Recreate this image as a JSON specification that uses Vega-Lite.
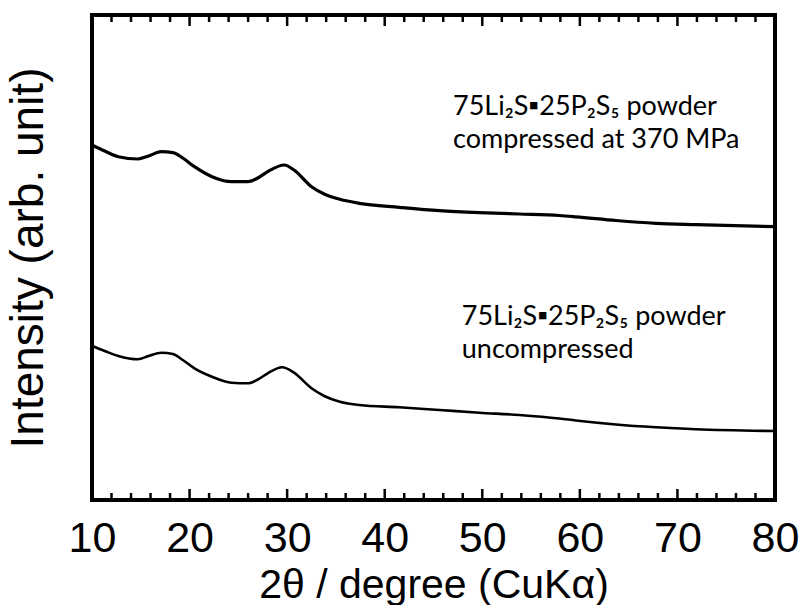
{
  "$schema": "https://vega.github.io/schema/vega-lite/v6.json",
  "width": 683,
  "height": 485,
  "autosize": "none",
  "padding": {"left": 92, "top": 15, "right": 27, "bottom": 105},
  "background": "white",
  "config": {
    "view": {"stroke": "black", "strokeWidth": 4},
    "axis": {"domain": false, "grid": false}
  },
  "datasets": {
    "xrd": [
      {"s": "a", "x": 10, "y": 355},
      {"s": "a", "x": 11.3, "y": 349},
      {"s": "a", "x": 12.7, "y": 343.3},
      {"s": "a", "x": 14.7, "y": 341},
      {"s": "a", "x": 15.8, "y": 344},
      {"s": "a", "x": 17.1, "y": 348.3},
      {"s": "a", "x": 18.3, "y": 347.3},
      {"s": "a", "x": 19.3, "y": 342},
      {"s": "a", "x": 20.5, "y": 333.3},
      {"s": "a", "x": 22.3, "y": 323.3},
      {"s": "a", "x": 24.3, "y": 318.3},
      {"s": "a", "x": 26, "y": 318.3},
      {"s": "a", "x": 27, "y": 322},
      {"s": "a", "x": 28, "y": 328.3},
      {"s": "a", "x": 29.7, "y": 335},
      {"s": "a", "x": 30.7, "y": 330},
      {"s": "a", "x": 32.5, "y": 313.3},
      {"s": "a", "x": 33.8, "y": 306},
      {"s": "a", "x": 35.4, "y": 300.7},
      {"s": "a", "x": 37.4, "y": 296.7},
      {"s": "a", "x": 41.5, "y": 292.7},
      {"s": "a", "x": 45.6, "y": 289.3},
      {"s": "a", "x": 49.7, "y": 287.3},
      {"s": "a", "x": 53.8, "y": 286},
      {"s": "a", "x": 57.9, "y": 284.5},
      {"s": "a", "x": 59.6, "y": 283.2},
      {"s": "a", "x": 63.7, "y": 279.5},
      {"s": "a", "x": 67.8, "y": 276.7},
      {"s": "a", "x": 71.9, "y": 275.3},
      {"s": "a", "x": 80, "y": 273.3},
      {"s": "b", "x": 10, "y": 154},
      {"s": "b", "x": 11.3, "y": 149},
      {"s": "b", "x": 12.7, "y": 144},
      {"s": "b", "x": 14.7, "y": 140.7},
      {"s": "b", "x": 15.8, "y": 144},
      {"s": "b", "x": 17.1, "y": 147.3},
      {"s": "b", "x": 18.3, "y": 146},
      {"s": "b", "x": 19.3, "y": 140},
      {"s": "b", "x": 20.5, "y": 131.7},
      {"s": "b", "x": 22.3, "y": 123.3},
      {"s": "b", "x": 24.3, "y": 117.3},
      {"s": "b", "x": 26, "y": 116.7},
      {"s": "b", "x": 27, "y": 120.5},
      {"s": "b", "x": 28, "y": 126.7},
      {"s": "b", "x": 29.5, "y": 132.7},
      {"s": "b", "x": 30.7, "y": 127.3},
      {"s": "b", "x": 32.5, "y": 111.7},
      {"s": "b", "x": 33.8, "y": 104},
      {"s": "b", "x": 35.4, "y": 98.3},
      {"s": "b", "x": 37.4, "y": 95},
      {"s": "b", "x": 41.5, "y": 92.7},
      {"s": "b", "x": 45.6, "y": 90},
      {"s": "b", "x": 49.7, "y": 87.3},
      {"s": "b", "x": 53.8, "y": 85},
      {"s": "b", "x": 57.9, "y": 81.5},
      {"s": "b", "x": 59.6, "y": 79.5},
      {"s": "b", "x": 63.7, "y": 75.5},
      {"s": "b", "x": 67.8, "y": 72.7},
      {"s": "b", "x": 71.9, "y": 70.7},
      {"s": "b", "x": 80, "y": 69}
    ],
    "tickvals": [
      {"v": 10, "m": 1}, {"v": 12, "m": 0}, {"v": 14, "m": 0}, {"v": 16, "m": 0}, {"v": 18, "m": 0},
      {"v": 20, "m": 1}, {"v": 22, "m": 0}, {"v": 24, "m": 0}, {"v": 26, "m": 0}, {"v": 28, "m": 0},
      {"v": 30, "m": 1}, {"v": 32, "m": 0}, {"v": 34, "m": 0}, {"v": 36, "m": 0}, {"v": 38, "m": 0},
      {"v": 40, "m": 1}, {"v": 42, "m": 0}, {"v": 44, "m": 0}, {"v": 46, "m": 0}, {"v": 48, "m": 0},
      {"v": 50, "m": 1}, {"v": 52, "m": 0}, {"v": 54, "m": 0}, {"v": 56, "m": 0}, {"v": 58, "m": 0},
      {"v": 60, "m": 1}, {"v": 62, "m": 0}, {"v": 64, "m": 0}, {"v": 66, "m": 0}, {"v": 68, "m": 0},
      {"v": 70, "m": 1}, {"v": 72, "m": 0}, {"v": 74, "m": 0}, {"v": 76, "m": 0}, {"v": 78, "m": 0},
      {"v": 80, "m": 1}
    ],
    "notes": [
      {"t": "75Li₂S▪25P₂S₅ powder", "x": 47.0, "y": 385},
      {"t": "compressed at 370 MPa", "x": 47.0, "y": 352},
      {"t": "75Li₂S▪25P₂S₅ powder", "x": 47.9, "y": 175},
      {"t": "uncompressed", "x": 47.9, "y": 142}
    ]
  },
  "layer": [
    {
      "data": {"name": "xrd"},
      "transform": [{"filter": "datum.s === 'a'"}],
      "mark": {"type": "line", "color": "black", "strokeWidth": 3.2, "interpolate": "monotone"},
      "encoding": {
        "x": {
          "field": "x", "type": "quantitative",
          "scale": {"domain": [10, 80], "nice": false, "zero": false},
          "axis": {
            "orient": "bottom",
            "values": [10, 20, 30, 40, 50, 60, 70, 80],
            "ticks": false,
            "labelFlush": false,
            "labelOverlap": false,
            "labelPadding": 17,
            "labelFont": "Liberation Sans",
            "labelFontSize": 43,
            "labelColor": "black",
            "title": "2θ / degree (CuKα)",
            "titleFont": "Liberation Sans",
            "titleFontSize": 41,
            "titleFontWeight": "normal",
            "titleColor": "black",
            "titlePadding": 5
          }
        },
        "y": {
          "field": "y", "type": "quantitative",
          "scale": {"domain": [0, 485], "nice": false, "zero": false},
          "axis": {
            "ticks": false, "labels": false,
            "title": "Intensity (arb. unit)",
            "titleFont": "Liberation Sans",
            "titleFontSize": 46,
            "titleFontWeight": "normal",
            "titleColor": "black",
            "titlePadding": 40
          }
        }
      }
    },
    {
      "data": {"name": "xrd"},
      "transform": [{"filter": "datum.s === 'b'"}],
      "mark": {"type": "line", "color": "black", "strokeWidth": 2.6, "interpolate": "monotone"},
      "encoding": {
        "x": {"field": "x", "type": "quantitative", "scale": {"domain": [10, 80], "nice": false, "zero": false}, "axis": null},
        "y": {"field": "y", "type": "quantitative", "scale": {"domain": [0, 485], "nice": false, "zero": false}, "axis": null}
      }
    },
    {
      "data": {"name": "tickvals"},
      "transform": [{"filter": "datum.m === 1"}],
      "mark": {"type": "rule", "color": "black", "strokeWidth": 2.5},
      "encoding": {
        "x": {"field": "v", "type": "quantitative", "scale": {"domain": [10, 80], "nice": false, "zero": false}, "axis": null},
        "y": {"datum": 0, "type": "quantitative", "scale": {"domain": [0, 485], "nice": false, "zero": false}, "axis": null},
        "y2": {"datum": 11}
      }
    },
    {
      "data": {"name": "tickvals"},
      "transform": [{"filter": "datum.m === 1"}],
      "mark": {"type": "rule", "color": "black", "strokeWidth": 2.5},
      "encoding": {
        "x": {"field": "v", "type": "quantitative", "scale": {"domain": [10, 80], "nice": false, "zero": false}, "axis": null},
        "y": {"datum": 485, "type": "quantitative", "scale": {"domain": [0, 485], "nice": false, "zero": false}, "axis": null},
        "y2": {"datum": 474}
      }
    },
    {
      "data": {"name": "tickvals"},
      "transform": [{"filter": "datum.m === 0"}],
      "mark": {"type": "rule", "color": "black", "strokeWidth": 2.5},
      "encoding": {
        "x": {"field": "v", "type": "quantitative", "scale": {"domain": [10, 80], "nice": false, "zero": false}, "axis": null},
        "y": {"datum": 0, "type": "quantitative", "scale": {"domain": [0, 485], "nice": false, "zero": false}, "axis": null},
        "y2": {"datum": 7}
      }
    },
    {
      "data": {"name": "tickvals"},
      "transform": [{"filter": "datum.m === 0"}],
      "mark": {"type": "rule", "color": "black", "strokeWidth": 2.5},
      "encoding": {
        "x": {"field": "v", "type": "quantitative", "scale": {"domain": [10, 80], "nice": false, "zero": false}, "axis": null},
        "y": {"datum": 485, "type": "quantitative", "scale": {"domain": [0, 485], "nice": false, "zero": false}, "axis": null},
        "y2": {"datum": 478}
      }
    },
    {
      "data": {"name": "notes"},
      "mark": {"type": "text", "align": "left", "baseline": "alphabetic", "font": "Lato", "fontSize": 27, "color": "black"},
      "encoding": {
        "x": {"field": "x", "type": "quantitative", "scale": {"domain": [10, 80], "nice": false, "zero": false}, "axis": null},
        "y": {"field": "y", "type": "quantitative", "scale": {"domain": [0, 485], "nice": false, "zero": false}, "axis": null},
        "text": {"field": "t"}
      }
    }
  ],
  "resolve": {"axis": {"x": "independent", "y": "independent"}}
}
